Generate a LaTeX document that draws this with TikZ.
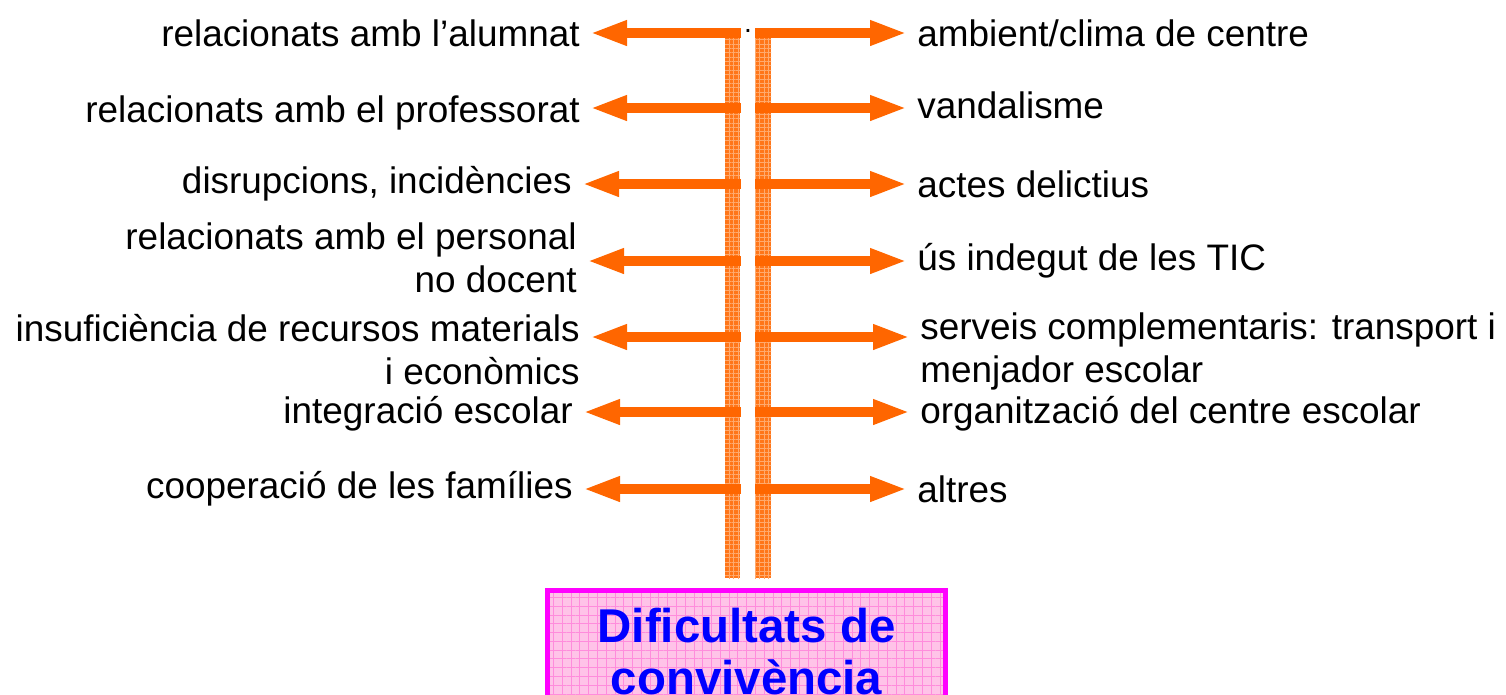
\documentclass[tikz,border=0pt]{standalone}
\usepackage{fontspec}
\setmainfont{Liberation Sans}
\usetikzlibrary{arrows.meta,patterns.meta}
\definecolor{arrowor}{RGB}{255,102,0}
\definecolor{spineor}{RGB}{255,118,25}
\definecolor{spinegrid}{RGB}{255,170,110}
\definecolor{boxpink}{RGB}{255,195,232}
\definecolor{boxgrid}{RGB}{255,140,220}
\definecolor{boxedge}{RGB}{255,0,255}
\definecolor{titleblue}{RGB}{0,0,255}
\tikzset{
  lbl/.style={font=\fontsize{21}{24.5}\selectfont,inner sep=0.2cm},
  lleft/.style={lbl,anchor=east,align=right},
  lright/.style={lbl,anchor=west,align=left},
  arr/.style={draw=arrowor,line width=0.2cm,-{Triangle[length=0.74cm,width=0.46cm]}},
  spine/.style={preaction={fill=spineor},pattern={Hatch[distance=2.5pt,line width=0.45pt]},pattern color=spinegrid},
  titlebox/.style={draw=boxedge,line width=0.1cm,preaction={fill=boxpink},
    pattern={Hatch[distance=5pt,line width=0.5pt]},pattern color=boxgrid,
    minimum width=7.98cm,minimum height=2.46cm,align=center,text=titleblue,
    font=\bfseries\fontsize{27}{30}\selectfont}
}
\begin{document}
\begin{tikzpicture}[x=0.02cm,y=-0.02cm]
	\clip (0,0) rectangle (1506,694);
	% spine
	\path[spine] (725,28) rectangle (740,578);
	\path[spine] (755,28) rectangle (771,578);
	\node[font=\fontsize{16}{18}\selectfont,inner sep=0pt] (dot) at (748,31) {.};
	% left labels
	\node[lleft] (l1) at (590,33) {relacionats amb l’alumnat};
	\node[lleft] (l2) at (590,113) {relacionats amb el professorat};
	\node[lleft] (l3) at (582,184) {disrupcions, incidències};
	\node[lleft] (l4) at (587,258) {relacionats amb el personal\\no docent};
	\node[lleft] (l5) at (590,350) {insuficiència de recursos materials\\i econòmics};
	\node[lleft] (l6) at (583,414) {integració escolar};
	\node[lleft] (l7) at (583,489) {cooperació de les famílies};
	% right labels
	\node[lright] (r1) at (907,33) {ambient/clima de centre};
	\node[lright] (r2) at (907,105) {vandalisme};
	\node[lright] (r3) at (907,184) {actes delictius};
	\node[lright] (r4) at (907,261) {ús indegut de les TIC};
	\node[lright] (r5) at (910,351) {serveis complementaris: transport i\\menjador escolar};
	\node[lright] (r6) at (910,414) {organització del centre escolar};
	\node[lright] (r7) at (907,489) {altres};
	% arrow roots on the spine
	\coordinate (a1) at (741,33);
	\coordinate (a2) at (741,108);
	\coordinate (a3) at (741,184);
	\coordinate (a4) at (741,261);
	\coordinate (a5) at (741,337);
	\coordinate (a6) at (741,412);
	\coordinate (a7) at (741,489);
	\coordinate (b1) at (755,33);
	\coordinate (b2) at (755,108);
	\coordinate (b3) at (755,184);
	\coordinate (b4) at (755,261);
	\coordinate (b5) at (755,337);
	\coordinate (b6) at (755,412);
	\coordinate (b7) at (755,489);
	\draw[arr] (a1) -- (a1 -| l1.east);
	\draw[arr] (a2) -- (a2 -| l2.east);
	\draw[arr] (a3) -- (a3 -| l3.east);
	\draw[arr] (a4) -- (a4 -| l4.east);
	\draw[arr] (a5) -- (a5 -| l5.east);
	\draw[arr] (a6) -- (a6 -| l6.east);
	\draw[arr] (a7) -- (a7 -| l7.east);
	\draw[arr] (b1) -- (b1 -| r1.west);
	\draw[arr] (b2) -- (b2 -| r2.west);
	\draw[arr] (b3) -- (b3 -| r3.west);
	\draw[arr] (b4) -- (b4 -| r4.west);
	\draw[arr] (b5) -- (b5 -| r5.west);
	\draw[arr] (b6) -- (b6 -| r6.west);
	\draw[arr] (b7) -- (b7 -| r7.west);
	% title
	\node[titlebox] (title) at (746.5,651.5) {Dificultats de\\convivència};
\end{tikzpicture}
\end{document}
